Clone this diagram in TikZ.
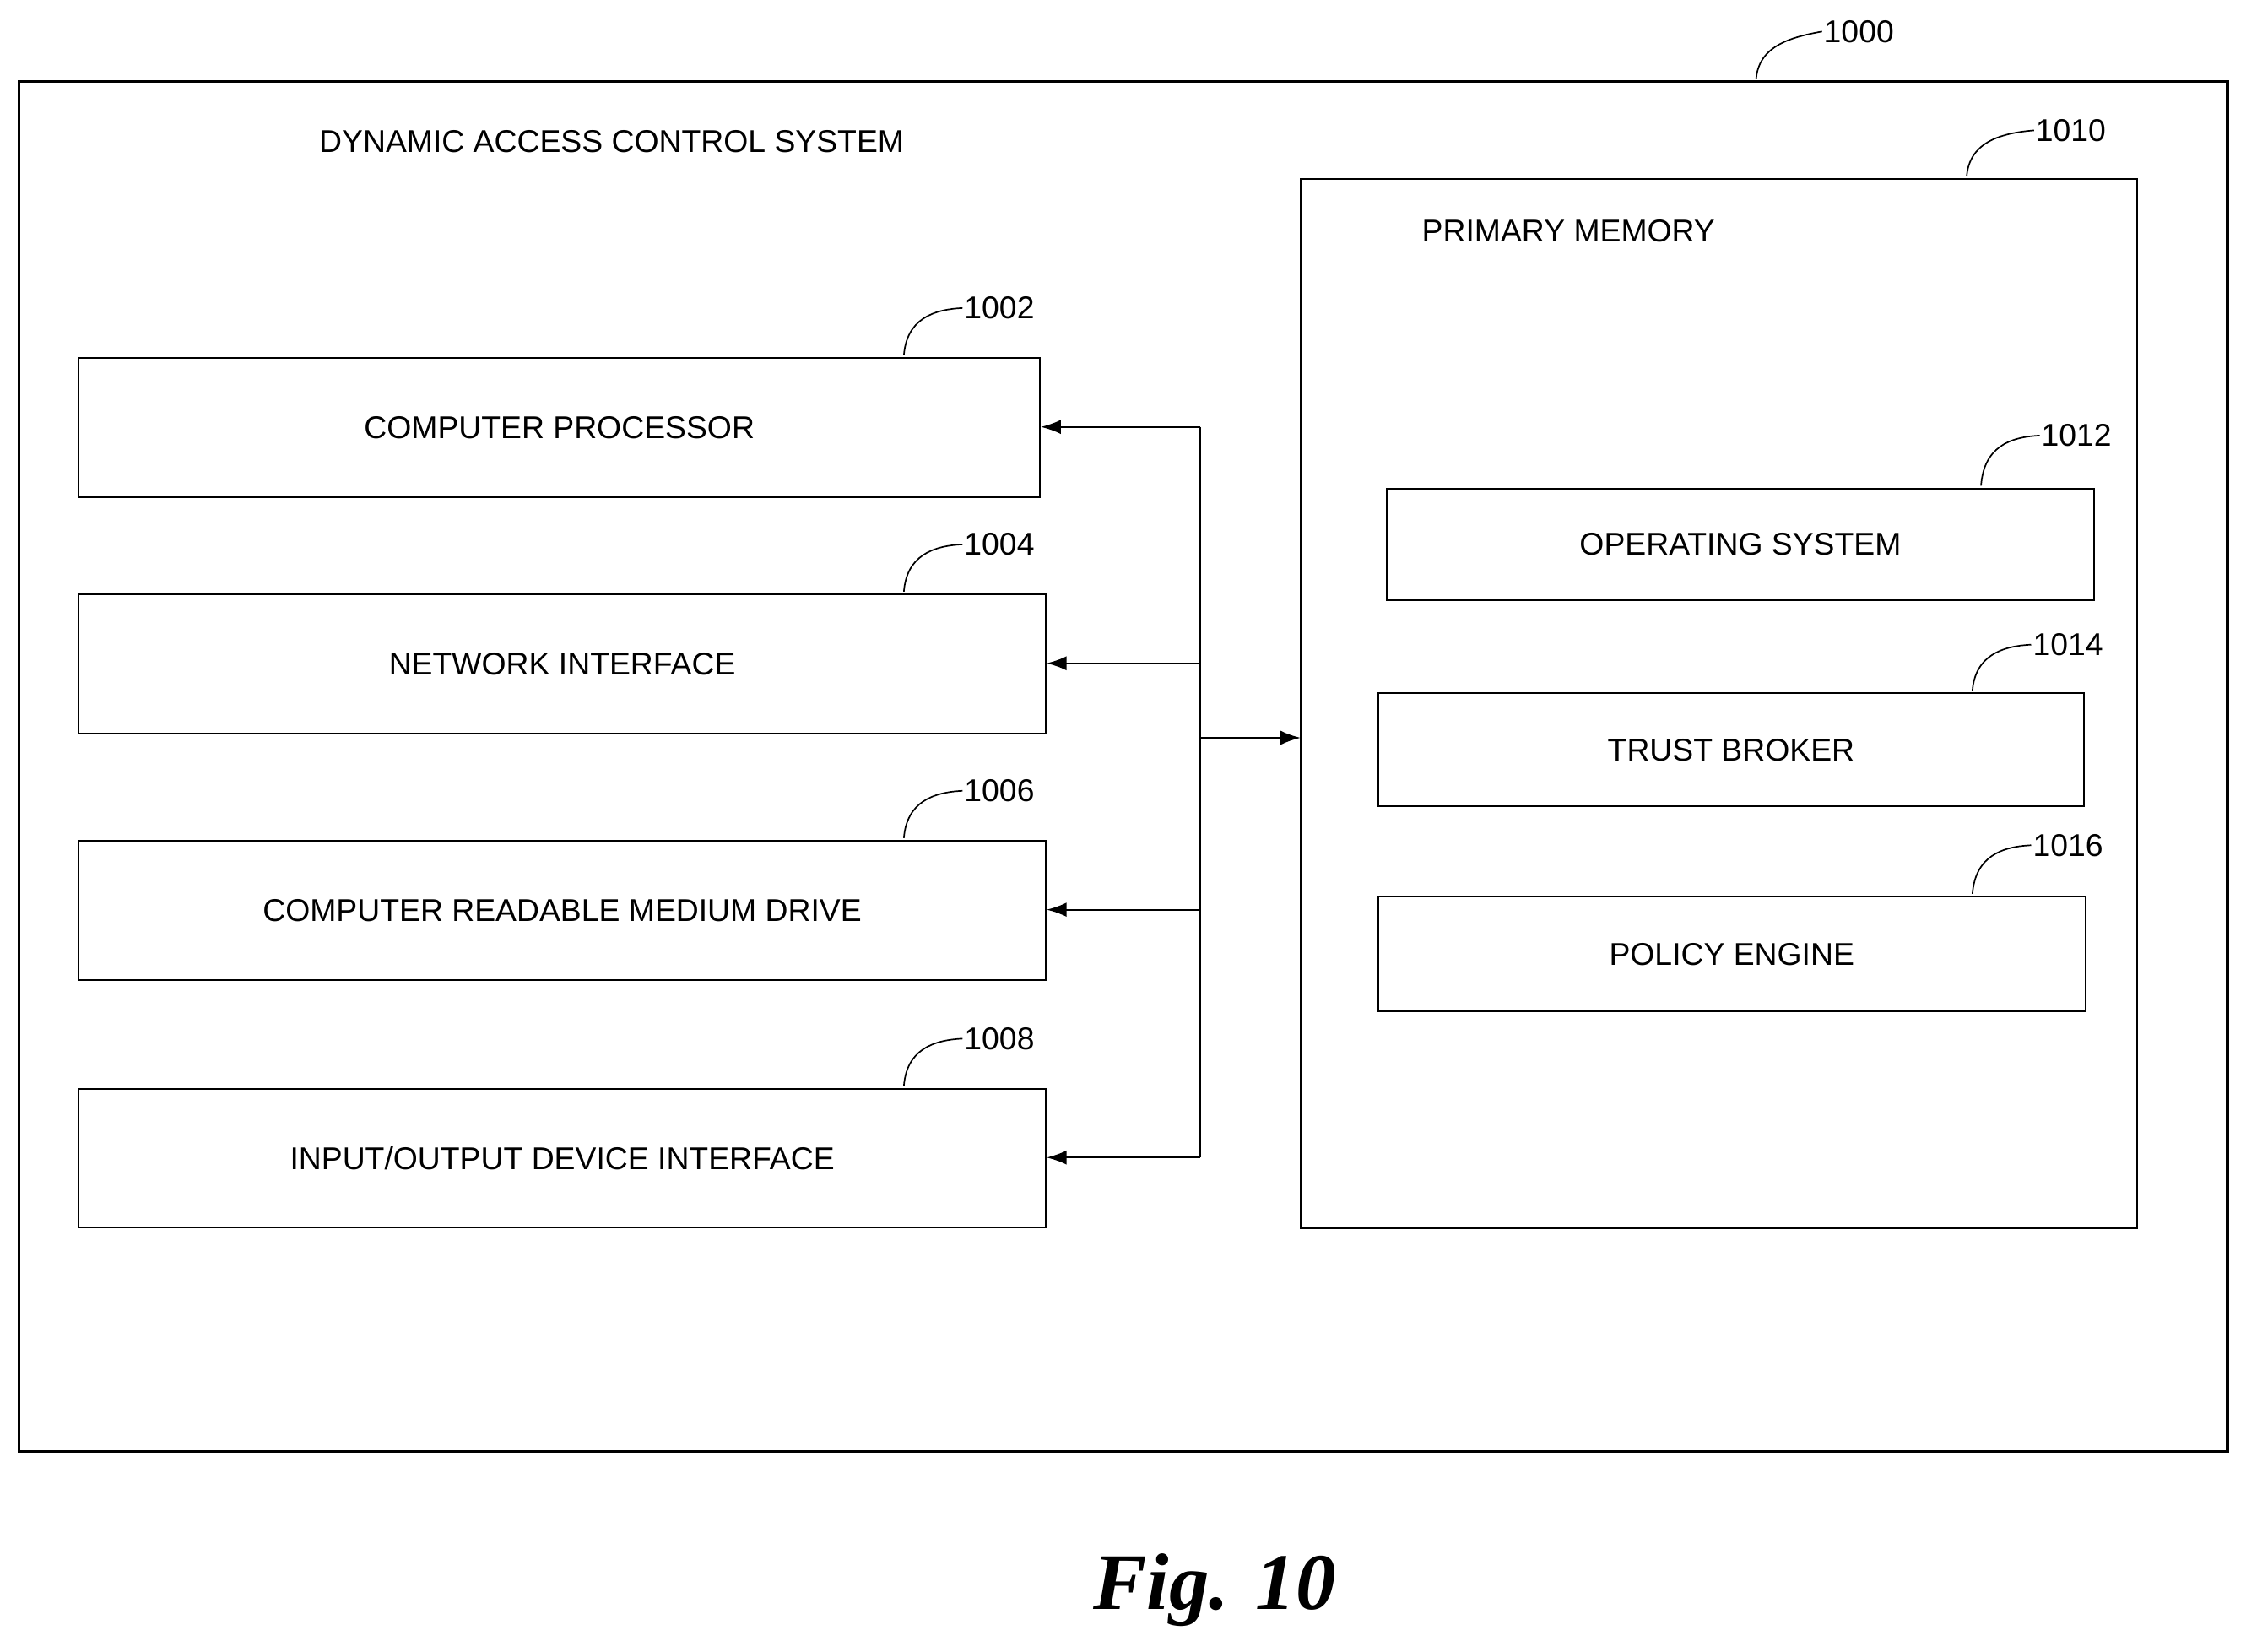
\documentclass[tikz,border=0pt]{standalone}
\usepackage{fontspec}
\setmainfont{Liberation Sans}
\newfontfamily\figfont{Liberation Serif}
\usetikzlibrary{arrows.meta}
\begin{document}
\begin{tikzpicture}[x=1pt,y=-1pt,
  box/.style={draw,line width=1.2pt},
  lbl/.style={font=\fontsize{22}{24}\selectfont},
  num/.style={font=\fontsize{22}{24}\selectfont,anchor=west,inner sep=1pt},
  lead/.style={line width=1pt},
  arr/.style={line width=1.2pt,-{Latex[length=14pt,width=10pt]}}]
\useasboundingbox (0,0) rectangle (1568,1152.6);
\draw[box,line width=1.8pt] (13,57) rectangle (1555,1013);
\node[lbl] (title) at (427,99) {DYNAMIC ACCESS CONTROL SYSTEM};
\coordinate (l0) at (1226,55);
\node[num] (n0) at (1272,22) {1000};
\draw[lead] (l0) .. controls (1228,32) and (1250,26) .. (n0.west);
% primary memory
\draw[box,line width=1.6pt] (908,125) rectangle (1492,857);
\node[lbl] (pm) at (1095,161) {PRIMARY MEMORY};
\coordinate (l10) at (1373,123);
\node[num] (n10) at (1420,91) {1010};
\draw[lead] (l10) .. controls (1375,100) and (1395,93) .. (n10.west);
% inner boxes
\foreach \nm/\a/\b/\c/\d/\txt/\n/\lx/\ny in {
  os/968/341/1462/419/{OPERATING SYSTEM}/1012/1383/304,
  tb/962/484/1455/563/{TRUST BROKER}/1014/1377/450,
  pe/962/626/1456/706/{POLICY ENGINE}/1016/1377/590,
  cp/55/250/726/347/{COMPUTER PROCESSOR}/1002/631/215,
  ni/55/415/730/512/{NETWORK INTERFACE}/1004/631/380,
  cr/55/587/730/684/{COMPUTER READABLE MEDIUM DRIVE}/1006/631/552,
  io/55/760/730/857/{INPUT\slash OUTPUT DEVICE INTERFACE}/1008/631/725}{
  \node[box,lbl,minimum width={\c-\a},minimum height={\d-\b},inner sep=0pt] (\nm) at ({(\a+\c)/2},{(\b+\d)/2}) {\txt};
  \coordinate (\nm l) at (\lx,\b-2);
  \node[num] (\nm n) at (\lx+41,\ny) {\n};
  \draw[lead] (\nm l) .. controls (\lx+2,\ny+8) and (\lx+20,\ny+1) .. (\nm n.west);
}
% bus
\coordinate (bt) at (838,298);
\coordinate (bb) at (838,808);
\draw[line width=1.2pt] (bt) -- (bb);
\draw[arr] (bt) -- (cp.east |- bt);
\draw[arr] (838,463) coordinate (b2) -- (ni.east |- b2);
\draw[arr] (838,635) coordinate (b3) -- (cr.east |- b3);
\draw[arr] (bb) -- (io.east |- bb);
\draw[arr] (838,515) coordinate (b5) -- (908,515);
\node[font=\figfont\bfseries\itshape\fontsize{56}{60}\selectfont] (fig) at (848,1110) {Fig. 10};
\end{tikzpicture}
\end{document}
